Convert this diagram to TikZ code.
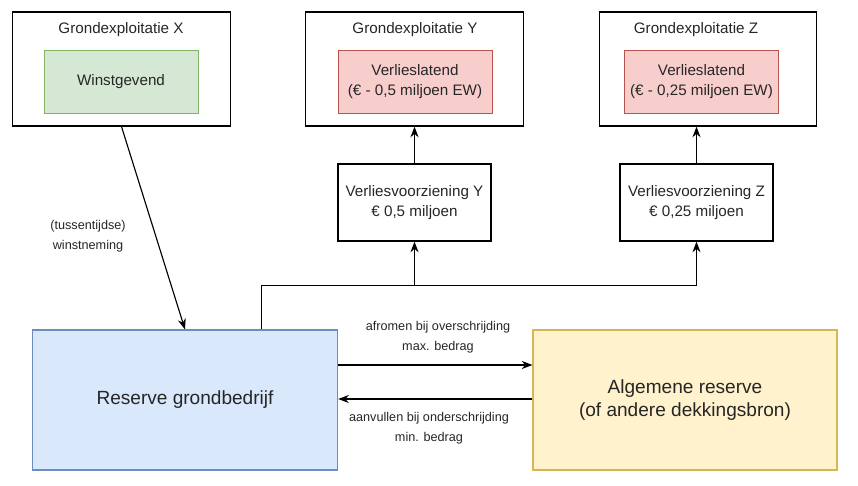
\documentclass[tikz,border=0pt]{standalone}
\usepackage{fontspec}
\setmainfont{Liberation Sans}
\usetikzlibrary{arrows.meta,calc}
\definecolor{txt}{HTML}{262626}
\definecolor{gfill}{HTML}{D5E8D4}\definecolor{gline}{HTML}{82B366}
\definecolor{rfill}{HTML}{F8CECC}\definecolor{rline}{HTML}{B85450}
\definecolor{bfill}{HTML}{DAE8FC}\definecolor{bline}{HTML}{6C8EBF}
\definecolor{yfill}{HTML}{FFF2CC}\definecolor{yline}{HTML}{D6B656}
\tikzset{
  outerbox/.style={draw=black,line width=0.9pt,minimum width=163pt,minimum height=85.5pt,inner sep=0pt},
  innerbox/.style={line width=0.7pt,minimum width=115.5pt,minimum height=47.25pt,inner sep=0pt,align=center,text=txt,font=\fontsize{11.4}{15}\selectfont},
  green/.style={innerbox,draw=gline,fill=gfill},
  red/.style={innerbox,draw=rline,fill=rfill},
  title/.style={text=txt,font=\fontsize{11.4}{15}\selectfont,inner sep=0pt},
  provbox/.style={draw=black,line width=0.9pt,minimum width=114.75pt,minimum height=57.75pt,inner sep=0pt,align=center,text=txt,font=\fontsize{11.4}{15}\selectfont},
  bigbox/.style={line width=0.8pt,minimum width=229pt,minimum height=105pt,inner sep=0pt,align=center,text=txt,font=\fontsize{14.3}{17}\selectfont},
  lbl/.style={text=txt,align=center,inner sep=0pt,font=\fontsize{9.5}{15}\selectfont},
  arr/.style={-{Stealth[length=8pt,width=6pt]},line width=0.85pt,draw=black}
}
\begin{document}
\begin{tikzpicture}[x=0.75pt,y=-0.75pt]
\useasboundingbox (0,0) rectangle (858,486);
% top boxes
\node[outerbox] (gx) at (121.5,69) {};
\node[outerbox] (gy) at (414.5,69) {};
\node[outerbox] (gz) at (708,69) {};
\node[title] (tx) at (121,30) {Grondexploitatie X};
\node[title] (ty) at (415,30) {Grondexploitatie Y};
\node[title] (tz) at (696,30) {Grondexploitatie Z};
\node[green] (wx) at (121,81.5) {Winstgevend};
\node[red] (ly) at (415,81.5) {Verlieslatend\\(€ - 0,5 miljoen EW)};
\node[red] (lz) at (701.5,81.5) {Verlieslatend\\(€ - 0,25 miljoen EW)};
% provisions
\node[provbox] (vy) at (414.5,202.5) {Verliesvoorziening Y\\€ 0,5 miljoen};
\node[provbox] (vz) at (696.5,202.5) {Verliesvoorziening Z\\€ 0,25 miljoen};
% bottom
\node[bigbox,draw=bline,fill=bfill] (res) at (185,400) {Reserve grondbedrijf};
\node[bigbox,draw=yline,fill=yfill,minimum width=228pt] (alg) at (685,400) {Algemene reserve\\(of andere dekkingsbron)};
% labels
\node[lbl] (lw) at (88,236) {(tussentijdse)\\winstneming};
\node[lbl] (la) at (438,337) {afromen bij overschrijding\\max. bedrag};
\node[lbl] (lo) at (429,428) {aanvullen bij onderschrijding\\min. bedrag};
% connectors
\draw[arr] (gx.south) -- (res.north);
\draw[arr] (vy.north) -- (vy.north |- gy.south);
\draw[arr] (vz.north) -- (vz.north |- gz.south);
\coordinate (rt) at ($(res.north west)!0.75!(res.north east)$);
\coordinate (j) at ($(rt)+(0,-44)$);
\draw[arr] (rt) -- (j) -| (vz.south);
\draw[arr] (j -| vy.south) -- (vy.south);
\draw[arr] ([yshift=26.25pt]res.east) -- ([yshift=26.25pt]alg.west);
\draw[arr] ([yshift=0.75pt]alg.west) -- ([yshift=0.75pt]res.east);
\end{tikzpicture}
\end{document}
